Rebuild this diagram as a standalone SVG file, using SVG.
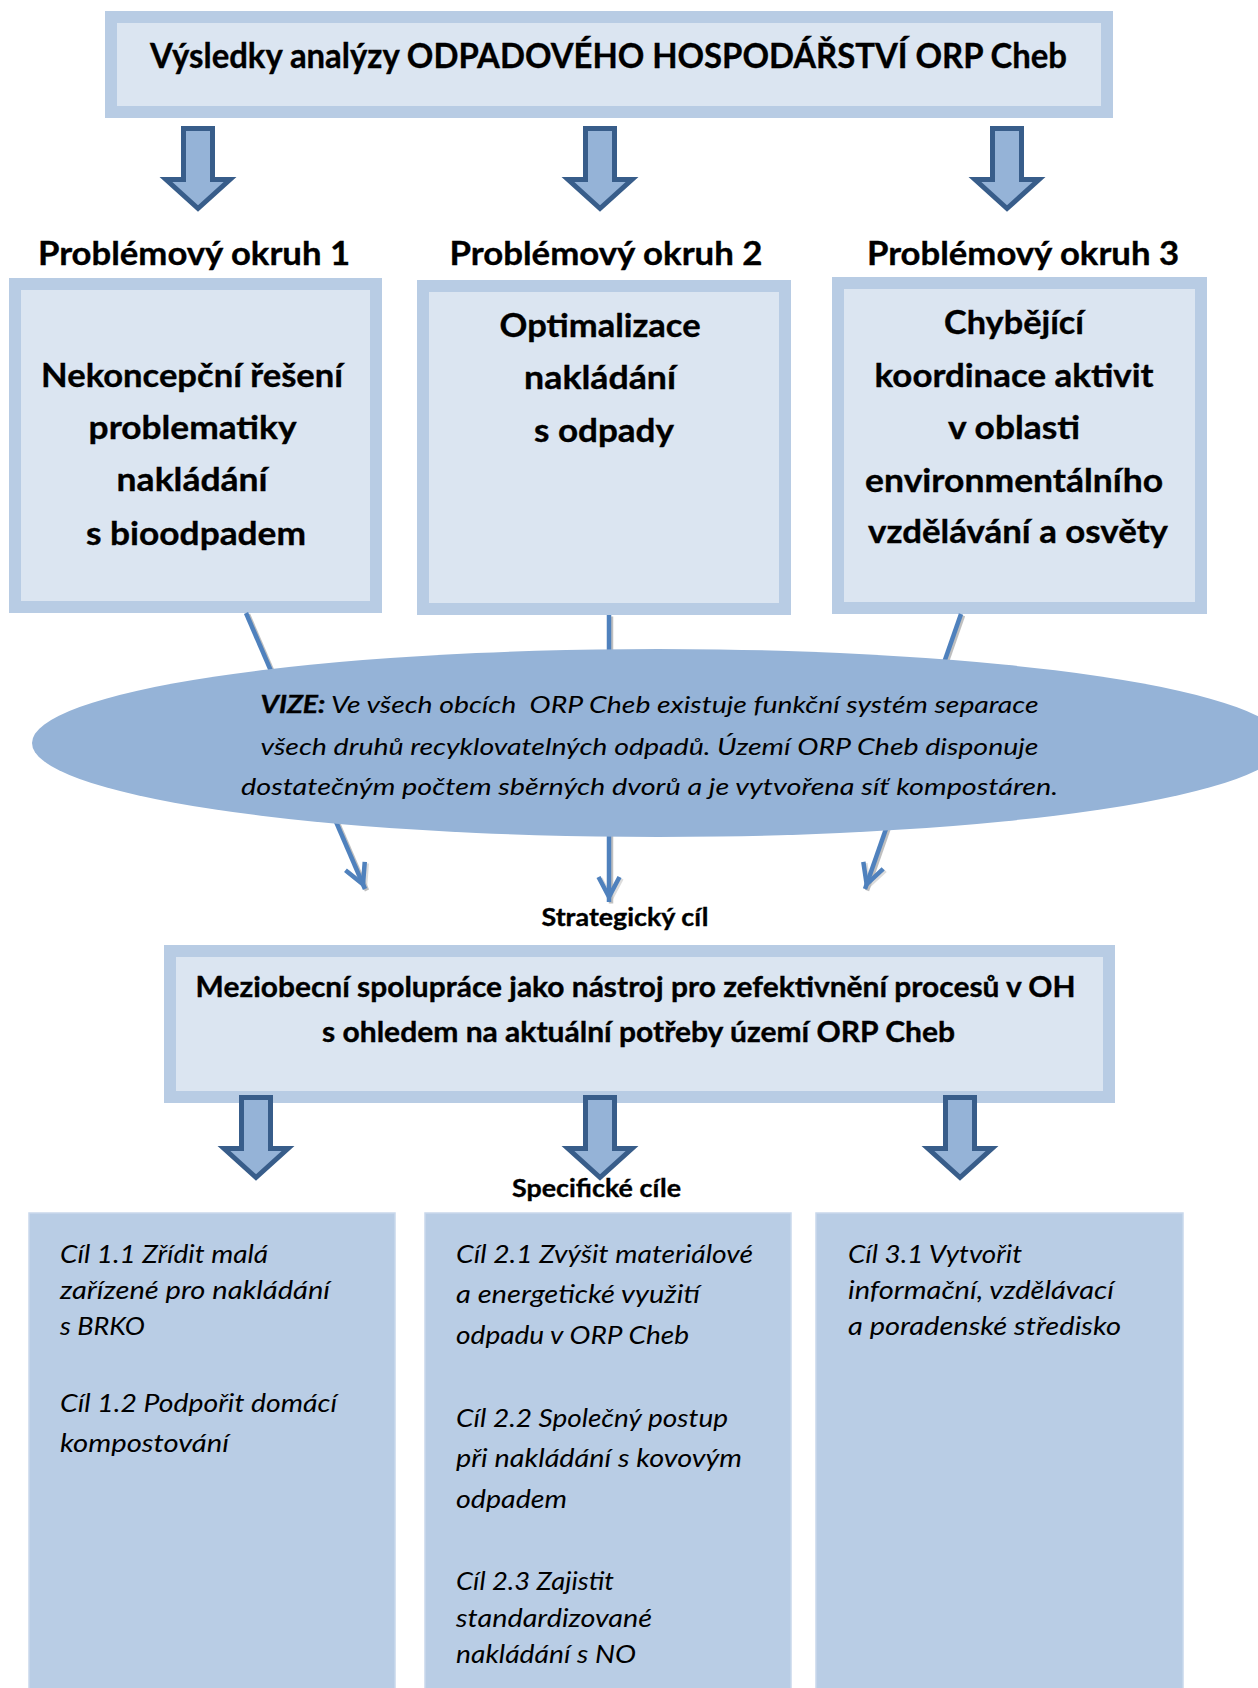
<svg xmlns="http://www.w3.org/2000/svg" width="1258" height="1688" viewBox="0 0 1258 1688">
<defs>
<style>
.t{font-family:Lato,"Open Sans","Liberation Sans",sans-serif;fill:#000}
.b{font-weight:700;stroke:#000;stroke-width:0.35}
.i{font-style:italic}
.box{fill:#DBE5F1;stroke:#B8CCE4;stroke-width:12}
.goal{fill:#B9CDE5;stroke:#C9D8EB;stroke-width:1.5}
.barrow{fill:#95B3D7;stroke:#385D8A;stroke-width:5;stroke-linejoin:miter}
.ln{fill:none;stroke:#4F81BD;stroke-width:4.5}
.sh{fill:none;stroke:#8C8C8C;stroke-width:4.5;opacity:0.55}
.hd{font-size:32px}
.pb{font-size:32px}
.el{font-size:24px;white-space:pre}
.gt{font-size:25px}
.sm{font-size:24px}
</style>
<path id="ba" d="M-14.5,0 H14.5 V51 H32 L0,80 L-32,51 H-14.5 Z"/>
<marker id="ah" markerUnits="userSpaceOnUse" viewBox="-30 -15 34 30" markerWidth="34" markerHeight="30" refX="0" refY="0" orient="auto" overflow="visible">
<path d="M-25,-10.5 L-5,0 L-25,10.5" fill="none" stroke="#4F81BD" stroke-width="4.5"/>
</marker>
<marker id="ahs" markerUnits="userSpaceOnUse" viewBox="-30 -15 34 30" markerWidth="34" markerHeight="30" refX="0" refY="0" orient="auto" overflow="visible">
<path d="M-25,-10.5 L-5,0 L-25,10.5" fill="none" stroke="#8C8C8C" stroke-width="4.5" opacity="0.55"/>
</marker>
</defs>

<g id="n-vysledky">
<rect class="box" x="111" y="17" width="996" height="95"/>
<text class="t b" x="608.5" y="68" font-size="34" text-anchor="middle" textLength="917" lengthAdjust="spacingAndGlyphs">Výsledky analýzy ODPADOVÉHO HOSPODÁŘSTVÍ ORP Cheb</text>
</g>

<g id="n-okruh1">
<text class="t b hd" x="194" y="265" text-anchor="middle" textLength="312" lengthAdjust="spacingAndGlyphs">Problémový okruh 1</text>
<rect class="box" x="15" y="284" width="361" height="323"/>
<text class="t b pb" text-anchor="middle">
<tspan x="196" y="387" textLength="302" lengthAdjust="spacingAndGlyphs">Nekoncepční řešení</tspan>
<tspan x="196" y="439" textLength="207" lengthAdjust="spacingAndGlyphs">problematiky</tspan>
<tspan x="196" y="491" textLength="151" lengthAdjust="spacingAndGlyphs">nakládání</tspan>
<tspan x="196" y="545" textLength="220" lengthAdjust="spacingAndGlyphs">s bioodpadem</tspan>
</text>
</g>

<g id="n-okruh2">
<text class="t b hd" x="606" y="265" text-anchor="middle" textLength="313" lengthAdjust="spacingAndGlyphs">Problémový okruh 2</text>
<rect class="box" x="423" y="286" width="362" height="323"/>
<text class="t b pb" text-anchor="middle">
<tspan x="604" y="337" textLength="201" lengthAdjust="spacingAndGlyphs">Optimalizace</tspan>
<tspan x="604" y="389" textLength="152" lengthAdjust="spacingAndGlyphs">nakládání</tspan>
<tspan x="604" y="442" textLength="140" lengthAdjust="spacingAndGlyphs">s odpady</tspan>
</text>
</g>

<g id="n-okruh3">
<text class="t b hd" x="1023" y="265" text-anchor="middle" textLength="312" lengthAdjust="spacingAndGlyphs">Problémový okruh 3</text>
<rect class="box" x="838" y="283" width="363" height="325"/>
<text class="t b pb" text-anchor="middle">
<tspan x="1018" y="334" textLength="140" lengthAdjust="spacingAndGlyphs">Chybějící</tspan>
<tspan x="1018" y="387" textLength="279" lengthAdjust="spacingAndGlyphs">koordinace aktivit</tspan>
<tspan x="1018" y="439" textLength="132" lengthAdjust="spacingAndGlyphs">v oblasti</tspan>
<tspan x="1018" y="492" textLength="298" lengthAdjust="spacingAndGlyphs">environmentálního</tspan>
<tspan x="1018" y="543" textLength="300" lengthAdjust="spacingAndGlyphs">vzdělávání a osvěty</tspan>
</text>
</g>

<g id="n-strategicky-cil">
<text class="t b sm" x="625" y="926" text-anchor="middle" textLength="167" lengthAdjust="spacingAndGlyphs">Strategický cíl</text>
<rect class="box" x="170" y="951" width="939" height="146"/>
<text class="t b" font-size="28" text-anchor="middle">
<tspan x="639" y="997" textLength="880" lengthAdjust="spacingAndGlyphs">Meziobecní spolupráce jako nástroj pro zefektivnění procesů v OH</tspan>
<tspan x="638.5" y="1042" textLength="633" lengthAdjust="spacingAndGlyphs">s ohledem na aktuální potřeby území ORP Cheb</tspan>
</text>
</g>

<g id="n-specificke-cile">
<text class="t b sm" x="596.5" y="1197" text-anchor="middle" textLength="169" lengthAdjust="spacingAndGlyphs">Specifické cíle</text>
</g>

<g id="n-cile1">
<rect class="goal" x="29" y="1213" width="366" height="480"/>
<text class="t i gt">
<tspan x="60" y="1263" textLength="208" lengthAdjust="spacingAndGlyphs">Cíl 1.1 Zřídit malá</tspan>
<tspan x="60" y="1299" textLength="270" lengthAdjust="spacingAndGlyphs">zařízené pro nakládání</tspan>
<tspan x="60" y="1335" textLength="85" lengthAdjust="spacingAndGlyphs">s BRKO</tspan>
<tspan x="60" y="1412" textLength="277" lengthAdjust="spacingAndGlyphs">Cíl 1.2 Podpořit domácí</tspan>
<tspan x="60" y="1452" textLength="169" lengthAdjust="spacingAndGlyphs">kompostování</tspan>
</text>
</g>

<g id="n-cile2">
<rect class="goal" x="425" y="1213" width="366" height="480"/>
<text class="t i gt">
<tspan x="456" y="1263" textLength="297" lengthAdjust="spacingAndGlyphs">Cíl 2.1 Zvýšit materiálové</tspan>
<tspan x="456" y="1303" textLength="244" lengthAdjust="spacingAndGlyphs">a energetické využití</tspan>
<tspan x="456" y="1344" textLength="233" lengthAdjust="spacingAndGlyphs">odpadu v ORP Cheb</tspan>
<tspan x="456" y="1427" textLength="272" lengthAdjust="spacingAndGlyphs">Cíl 2.2 Společný postup</tspan>
<tspan x="456" y="1467" textLength="286" lengthAdjust="spacingAndGlyphs">při nakládání s kovovým</tspan>
<tspan x="456" y="1508" textLength="111" lengthAdjust="spacingAndGlyphs">odpadem</tspan>
<tspan x="456" y="1590" textLength="158" lengthAdjust="spacingAndGlyphs">Cíl 2.3 Zajistit</tspan>
<tspan x="456" y="1627" textLength="196" lengthAdjust="spacingAndGlyphs">standardizované</tspan>
<tspan x="456" y="1663" textLength="180" lengthAdjust="spacingAndGlyphs">nakládání s NO</tspan>
</text>
</g>

<g id="n-cile3">
<rect class="goal" x="816" y="1213" width="367" height="480"/>
<text class="t i gt">
<tspan x="848" y="1263" textLength="174" lengthAdjust="spacingAndGlyphs">Cíl 3.1 Vytvořit</tspan>
<tspan x="848" y="1299" textLength="266" lengthAdjust="spacingAndGlyphs">informační, vzdělávací</tspan>
<tspan x="848" y="1335" textLength="273" lengthAdjust="spacingAndGlyphs">a poradenské středisko</tspan>
</text>
</g>

<g id="connectors">
<use href="#ba" class="barrow" transform="translate(198,128.5)"/>
<use href="#ba" class="barrow" transform="translate(600,128.5)"/>
<use href="#ba" class="barrow" transform="translate(1007,128.5)"/>
<use href="#ba" class="barrow" transform="translate(256,1097.5)"/>
<use href="#ba" class="barrow" transform="translate(600,1097.5)"/>
<use href="#ba" class="barrow" transform="translate(960,1097.5)"/>
<g transform="translate(2,1.5)">
<line class="sh" x1="246" y1="613" x2="365" y2="889" marker-end="url(#ahs)"/>
<line class="sh" x1="609" y1="615" x2="609" y2="902" marker-end="url(#ahs)"/>
<line class="sh" x1="961" y1="614" x2="865" y2="889" marker-end="url(#ahs)"/>
</g>
<line class="ln" x1="246" y1="613" x2="365" y2="889" marker-end="url(#ah)"/>
<line class="ln" x1="609" y1="615" x2="609" y2="902" marker-end="url(#ah)"/>
<line class="ln" x1="961" y1="614" x2="865" y2="889" marker-end="url(#ah)"/>
</g>

<g id="n-vize">
<ellipse cx="658" cy="743" rx="626" ry="94" fill="#95B3D7"/>
<text class="t i el" x="649.5" y="713" text-anchor="middle" textLength="778" lengthAdjust="spacingAndGlyphs"><tspan class="b">VIZE:</tspan> Ve všech obcích  ORP Cheb existuje funkční systém separace</text>
<text class="t i el" x="649.5" y="755" text-anchor="middle" textLength="778" lengthAdjust="spacingAndGlyphs">všech druhů recyklovatelných odpadů. Území ORP Cheb disponuje</text>
<text class="t i el" x="649.5" y="795" text-anchor="middle" textLength="817" lengthAdjust="spacingAndGlyphs">dostatečným počtem sběrných dvorů a je vytvořena síť kompostáren.</text>
</g>
</svg>
